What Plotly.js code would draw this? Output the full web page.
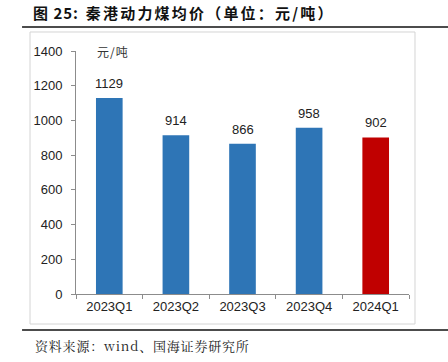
<!DOCTYPE html>
<html>
<head>
<meta charset="utf-8">
<script src="https://cdn.plot.ly/plotly-3.0.1.min.js"></script>
<style>html,body{margin:0;padding:0;background:#fff;}#chart{width:448px;height:362px;}</style>
</head>
<body>
<div id="chart"></div>
<script>
const categories = ["2023Q1", "2023Q2", "2023Q3", "2023Q4", "2024Q1"];
const values = [1129, 914, 866, 958, 902];
const barColors = ["#2E75B6", "#2E75B6", "#2E75B6", "#2E75B6", "#C00000"];
const yTicks = [0, 200, 400, 600, 800, 1000, 1200, 1400];
const unitLabel = "元/吨";
const titleNum = "图 25:";
const titleText = "秦港动力煤均价（单位：元/吨）";
const sourceText = "资料来源：wind、国海证券研究所";

const sans = "Liberation Sans, Arial, sans-serif";
const cjk = "Noto Sans CJK SC, sans-serif";

const trace = {
  type: "bar",
  x: categories,
  y: values,
  marker: { color: barColors, line: { width: 0 } },
  width: 0.4,
  hoverinfo: "none"
};

const labelAnnotations = categories.map((c, i) => ({
  x: c, y: values[i], xref: "x", yref: "y",
  text: String(values[i]), showarrow: false,
  yanchor: "bottom", yshift: 5,
  font: { family: sans, size: 13, color: "#222" }
}));

const layout = {
  width: 448, height: 362,
  margin: { l: 76, r: 39, t: 51, b: 68 },
  paper_bgcolor: "#fff", plot_bgcolor: "#fff",
  showlegend: false,
  title: {
    text: "<b><span style=\"letter-spacing:1px\">" + titleNum + "</span>&nbsp;&nbsp;<span style=\"letter-spacing:2.2px\">" + titleText + "</span></b>",
    x: 33 / 448, xanchor: "left", xref: "container",
    y: 1 - 14 / 362, yanchor: "middle", yref: "container",
    font: { family: cjk, size: 15, color: "#111" }
  },
  xaxis: {
    type: "category",
    range: [-0.5, 4.5],
    showline: true, linecolor: "#8c8c8c", linewidth: 1,
    ticks: "outside", ticklen: 4, tickcolor: "#8c8c8c",
    tickson: "boundaries",
    showgrid: false, zeroline: false,
    tickfont: { family: sans, size: 13, color: "#222" }
  },
  yaxis: {
    range: [0, 1400],
    tickvals: yTicks,
    showline: true, linecolor: "#8c8c8c", linewidth: 1,
    ticks: "outside", ticklen: 4, tickcolor: "#8c8c8c",
    showgrid: false, zeroline: false,
    tickfont: { family: sans, size: 13, color: "#222" },
    ticklabelstandoff: 6
  },
  shapes: [
    { type: "rect", xref: "paper", yref: "paper",
      x0: -0.1381, x1: 1.018, y0: -0.1235, y1: 1.0782,
      line: { color: "#d4d4d4", width: 1 }, layer: "below" },
    { type: "line", xref: "paper", yref: "paper",
      x0: -0.162, x1: 1.12, y0: 1.0988, y1: 1.0988,
      line: { color: "#111", width: 1.5 } },
    { type: "line", xref: "paper", yref: "paper",
      x0: -0.162, x1: 1.12, y0: -0.148, y1: -0.148,
      line: { color: "#111", width: 1.5 } }
  ],
  annotations: labelAnnotations.concat([
    { xref: "paper", yref: "paper", x: (113 - 76) / 333, y: 1,
      text: "<span style=\"letter-spacing:1px\">" + unitLabel + "</span>", showarrow: false, xanchor: "center", yanchor: "middle",
      font: { family: cjk, size: 12, color: "#333" } },
    { xref: "paper", yref: "paper", x: (33 - 76) / 333, y: (294 - 345) / 243,
      text: "<span style=\"letter-spacing:0.8px\">" + sourceText + "</span>", showarrow: false, xanchor: "left", yanchor: "middle",
      font: { family: "Noto Serif CJK SC, Liberation Serif, " + cjk, size: 13, color: "#222" } }
  ])
};

Plotly.newPlot("chart", [trace], layout, { displayModeBar: false, staticPlot: true });
</script>
</body>
</html>
